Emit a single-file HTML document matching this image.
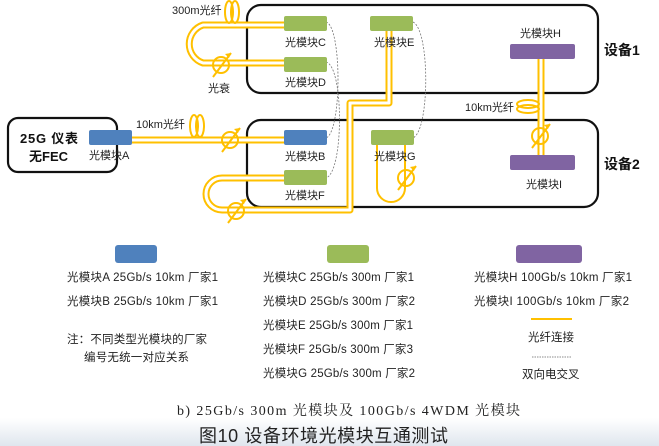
<!DOCTYPE html>
<html><head><meta charset="utf-8"><style>
html,body{margin:0;padding:0;background:#fff}
svg{display:block}
text{font-family:"Liberation Sans","Noto Sans CJK SC",sans-serif;fill:#222}
</style></head><body>
<svg width="659" height="446" viewBox="0 0 659 446" xmlns="http://www.w3.org/2000/svg">
<defs>
<linearGradient id="bg" x1="0" y1="0" x2="0" y2="1"><stop offset="0" stop-color="#fff"/><stop offset="1" stop-color="#dfe6ee"/></linearGradient>
<g id="att"><circle cx="0" cy="0" r="8" fill="none" stroke="#ffc000" stroke-width="2"/><line x1="-8" y1="12" x2="10" y2="-12" stroke="#ffc000" stroke-width="2"/><path d="M10,-12 l-6,1 l4,4z" fill="#ffc000"/></g>
</defs>
<rect x="0" y="418" width="659" height="28" fill="url(#bg)"/>
<rect x="247" y="5" width="351" height="88" rx="14" fill="none" stroke="#111" stroke-width="2.2"/>
<rect x="247" y="120" width="351" height="87" rx="14" fill="none" stroke="#111" stroke-width="2.2"/>
<rect x="8" y="118" width="109" height="54" rx="10" fill="none" stroke="#111" stroke-width="2.2"/>
<text x="20" y="143" font-size="13" font-weight="bold" textLength="58" style="fill:#111">25G 仪表</text>
<text x="29" y="161" font-size="13" font-weight="bold" style="fill:#111">无FEC</text>
<text x="604" y="55" font-size="14" font-weight="bold" style="fill:#111">设备1</text>
<text x="604" y="169" font-size="14" font-weight="bold" style="fill:#111">设备2</text>
<g fill="none" stroke-linejoin="round">
<g stroke="#ffc000" stroke-width="7">
<path d="M284,25 H203 A20,20 0 0 0 203,63 H284"/>
<path d="M132,140 H284"/>
<path d="M284,178 H222 A16,16 0 0 0 222,210 H350 V103 H389 V31"/>
<path d="M541,59 V155"/>
</g>
<g stroke="#fff" stroke-width="3">
<path d="M284,25 H203 A20,20 0 0 0 203,63 H284"/>
<path d="M132,140 H284"/>
<path d="M284,178 H222 A16,16 0 0 0 222,210 H350 V103 H389 V31"/>
<path d="M541,59 V155"/>
</g>
<path d="M377,145 V188 A14,14 0 0 0 405,188 V145" stroke="#ffc000" stroke-width="2"/>
</g>
<g fill="none" stroke="#ffc000" stroke-width="2">
<ellipse cx="229" cy="12" rx="4" ry="11"/><ellipse cx="235" cy="12" rx="4" ry="11"/>
<ellipse cx="194" cy="126" rx="4" ry="11"/><ellipse cx="200" cy="126" rx="4" ry="11"/>
<ellipse cx="528" cy="104" rx="11" ry="4"/><ellipse cx="528" cy="109" rx="11" ry="4"/>
</g>
<use href="#att" x="221" y="65"/>
<use href="#att" x="230" y="140"/>
<use href="#att" x="236" y="211"/>
<use href="#att" x="406" y="178"/>
<use href="#att" x="540" y="136"/>
<g fill="none" stroke="#777" stroke-width="0.8" stroke-dasharray="2,1.5">
<path d="M326,22 C342,26 342,132 326,138"/>
<path d="M326,62 C344,66 344,172 326,178"/>
<path d="M413,22 C430,30 430,130 413,138"/>
</g>
<g>
<rect x="89" y="130" width="43" height="15" rx="2" fill="#4f81bd"/>
<rect x="284" y="130" width="43" height="15" rx="2" fill="#4f81bd"/>
<rect x="284" y="16" width="43" height="15" rx="2" fill="#9bbb59"/>
<rect x="284" y="57" width="43" height="15" rx="2" fill="#9bbb59"/>
<rect x="370" y="16" width="43" height="15" rx="2" fill="#9bbb59"/>
<rect x="284" y="170" width="43" height="15" rx="2" fill="#9bbb59"/>
<rect x="371" y="130" width="43" height="15" rx="2" fill="#9bbb59"/>
<rect x="510" y="44" width="65" height="15" rx="2" fill="#8064a2"/>
<rect x="510" y="155" width="65" height="15" rx="2" fill="#8064a2"/>
</g>
<g font-size="11">
<text x="89" y="159">光模块A</text>
<text x="285" y="46">光模块C</text>
<text x="285" y="86">光模块D</text>
<text x="374" y="46">光模块E</text>
<text x="520" y="37">光模块H</text>
<text x="285" y="160">光模块B</text>
<text x="285" y="199">光模块F</text>
<text x="374" y="160">光模块G</text>
<text x="526" y="188">光模块I</text>
<text x="172" y="14">300m光纤</text>
<text x="208" y="92">光衰</text>
<text x="136" y="128">10km光纤</text>
<text x="465" y="111">10km光纤</text>
</g>
<rect x="115" y="245" width="42" height="18" rx="3" fill="#4f81bd"/>
<rect x="327" y="245" width="42" height="18" rx="3" fill="#9bbb59"/>
<rect x="516" y="245" width="66" height="18" rx="3" fill="#8064a2"/>
<g font-size="11.5">
<text x="67" y="281" textLength="151">光模块A 25Gb/s 10km 厂家1</text>
<text x="67" y="305" textLength="151">光模块B 25Gb/s 10km 厂家1</text>
<text x="263" y="281" textLength="151">光模块C 25Gb/s 300m 厂家1</text>
<text x="263" y="305" textLength="152">光模块D 25Gb/s 300m 厂家2</text>
<text x="263" y="329" textLength="150">光模块E 25Gb/s 300m 厂家1</text>
<text x="263" y="353" textLength="150">光模块F 25Gb/s 300m 厂家3</text>
<text x="263" y="377" textLength="152">光模块G 25Gb/s 300m 厂家2</text>
<text x="474" y="281" textLength="158">光模块H 100Gb/s 10km 厂家1</text>
<text x="474" y="305" textLength="155">光模块I 100Gb/s 10km 厂家2</text>
<text x="67" y="343" textLength="140">注：不同类型光模块的厂家</text>
<text x="84" y="361" textLength="105">编号无统一对应关系</text>
<text x="528" y="341">光纤连接</text>
<text x="522" y="378">双向电交叉</text>
</g>
<line x1="531" y1="319" x2="572" y2="319" stroke="#ffc000" stroke-width="2"/>
<line x1="532" y1="357" x2="572" y2="357" stroke="#666" stroke-width="0.8" stroke-dasharray="1.5,1"/>
<text x="177" y="415" font-size="14" textLength="343" style="font-family:'Liberation Serif','Noto Serif CJK SC',serif">b) 25Gb/s 300m 光模块及 100Gb/s 4WDM 光模块</text>
<text x="199" y="442" font-size="18" textLength="249">图10  设备环境光模块互通测试</text>
</svg>
</body></html>
